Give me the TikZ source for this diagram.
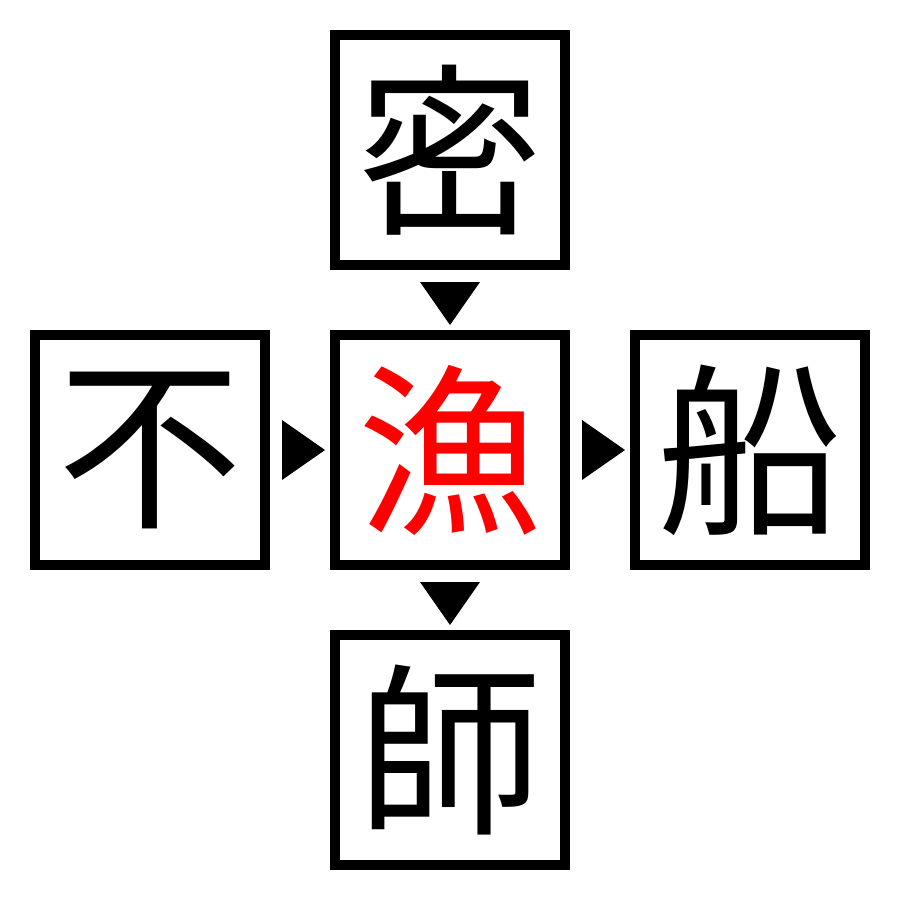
\documentclass[tikz,border=0pt]{standalone}
\usepackage{fontspec}
\newfontfamily\cjk{Noto Sans CJK JP}
\begin{document}
\begin{tikzpicture}[x=1pt,y=-1pt,
  kbox/.style={draw=black,line width=10pt,minimum width=230pt,minimum height=230pt,inner sep=0pt,font=\cjk\fontsize{185pt}{185pt}\selectfont},
  tri/.style={fill=black}]
\useasboundingbox (0,0) rectangle (900,900);
\node[kbox] (top) at (150+300,150) {密};
\node[kbox] (left) at (150,450) {不};
\node[kbox,text=red] (mid) at (450,450) {漁};
\node[kbox] (right) at (750,450) {船};
\node[kbox] (bot) at (450,750) {師};
% arrows
\fill[tri] (420,282) -- (480,282) -- (450,325) -- cycle;
\fill[tri] (420,582) -- (480,582) -- (450,625) -- cycle;
\fill[tri] (282,420) -- (282,480) -- (325,450) -- cycle;
\fill[tri] (582,420) -- (582,480) -- (625,450) -- cycle;
\end{tikzpicture}
\end{document}
